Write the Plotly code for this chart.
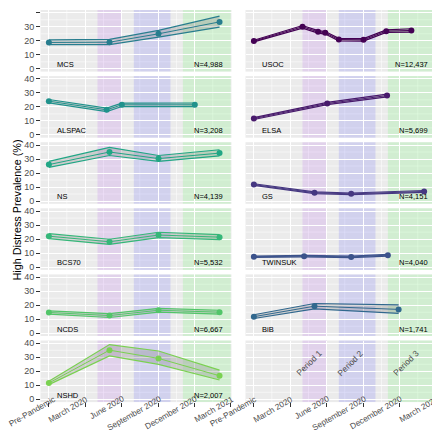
import math
import plotly.graph_objects as go

# ---------------- data ----------------
tick_dates = ["2019-12-01", "2020-03-01", "2020-06-01", "2020-09-01", "2020-12-01", "2021-03-01"]
tick_labels = ["Pre-Pandemic", "March 2020", "June 2020", "September 2020", "December 2020", "March 2021"]
minor_dates = ["2020-01-15", "2020-04-16", "2020-07-16", "2020-10-16", "2021-01-15"]

period_names = ["Period 1", "Period 2", "Period 3"]
period_start = ["2020-04-01", "2020-07-01", "2020-11-01"]
period_end = ["2020-06-01", "2020-10-01", "2021-03-01"]
period_label_x = ["2020-05-03", "2020-08-15", "2021-01-01"]
period_label_y = [21.5, 21.5, 21.5]

left_studies = ["MCS", "ALSPAC", "NS", "BCS70", "NCDS", "NSHD"]
right_studies = ["USOC", "ELSA", "GS", "TWINSUK", "BiB"]

mcs_dates = ["2019-12-01", "2020-05-01", "2020-09-01", "2021-02-01"]
mcs_est = [18.8, 19.0, 25.0, 33.5]
mcs_lo = [17.3, 17.3, 22.6, 29.8]
mcs_hi = [20.6, 21.0, 27.4, 37.6]

alspac_dates = ["2019-12-01", "2020-04-24", "2020-06-01", "2020-12-01"]
alspac_est = [24.1, 17.9, 21.5, 21.5]
alspac_lo = [22.9, 16.7, 20.3, 20.2]
alspac_hi = [25.3, 19.1, 22.7, 22.8]

ns_dates = ["2019-12-01", "2020-05-01", "2020-09-01", "2021-02-01"]
ns_est = [26.0, 35.0, 30.3, 34.2]
ns_lo = [24.0, 32.5, 28.3, 32.2]
ns_hi = [28.3, 38.3, 32.5, 36.6]

bcs70_dates = ["2019-12-01", "2020-05-01", "2020-09-01", "2021-02-01"]
bcs70_est = [22.1, 18.1, 22.9, 21.4]
bcs70_lo = [20.3, 16.2, 21.0, 19.6]
bcs70_hi = [23.9, 19.9, 24.9, 23.2]

ncds_dates = ["2019-12-01", "2020-05-01", "2020-09-01", "2021-02-01"]
ncds_est = [14.8, 12.6, 16.4, 15.0]
ncds_lo = [13.6, 11.2, 15.0, 13.6]
ncds_hi = [16.0, 14.0, 17.8, 16.4]

nshd_dates = ["2019-12-01", "2020-05-01", "2020-09-01", "2021-02-01"]
nshd_est = [11.6, 35.1, 29.2, 16.8]
nshd_lo = [10.5, 31.0, 25.0, 13.8]
nshd_hi = [12.9, 39.1, 34.5, 20.8]

usoc_dates = ["2019-12-01", "2020-04-01", "2020-05-10", "2020-05-28", "2020-07-01",
              "2020-09-01", "2020-10-28", "2020-12-30"]
usoc_est = [19.8, 30.0, 26.4, 25.7, 20.9, 20.7, 26.9, 27.4]
usoc_lo = [19.2, 29.1, 25.5, 24.8, 20.0, 19.8, 26.0, 26.2]
usoc_hi = [20.4, 30.9, 27.3, 26.6, 21.8, 21.6, 27.8, 28.6]

elsa_dates = ["2019-12-01", "2020-06-02", "2020-10-30"]
elsa_est = [11.7, 22.4, 28.1]
elsa_lo = [11.0, 21.6, 27.1]
elsa_hi = [12.4, 23.2, 29.1]

gs_dates = ["2019-12-01", "2020-05-01", "2020-08-01", "2021-01-31"]
gs_est = [11.7, 5.9, 5.1, 6.8]
gs_lo = [11.1, 5.3, 4.5, 6.1]
gs_hi = [12.3, 6.5, 5.7, 7.5]

twinsuk_dates = ["2019-12-01", "2020-04-05", "2020-08-01", "2020-11-01"]
twinsuk_est = [7.4, 7.8, 7.3, 8.5]
twinsuk_lo = [6.9, 7.2, 6.8, 7.9]
twinsuk_hi = [7.9, 8.4, 7.8, 9.1]

bib_dates = ["2019-12-01", "2020-05-01", "2020-11-28"]
bib_est = [11.8, 19.3, 17.0]
bib_lo = [10.5, 17.4, 14.2]
bib_hi = [13.2, 21.2, 20.3]

sample_sizes = {"MCS": "N=4,988", "ALSPAC": "N=3,208", "NS": "N=4,139", "BCS70": "N=5,532",
                "NCDS": "N=6,667", "NSHD": "N=2,007", "USOC": "N=12,437", "ELSA": "N=5,699",
                "GS": "N=4,151", "TWINSUK": "N=4,040", "BiB": "N=1,741"}

series = {
    "MCS": (mcs_dates, mcs_est, mcs_lo, mcs_hi),
    "ALSPAC": (alspac_dates, alspac_est, alspac_lo, alspac_hi),
    "NS": (ns_dates, ns_est, ns_lo, ns_hi),
    "BCS70": (bcs70_dates, bcs70_est, bcs70_lo, bcs70_hi),
    "NCDS": (ncds_dates, ncds_est, ncds_lo, ncds_hi),
    "NSHD": (nshd_dates, nshd_est, nshd_lo, nshd_hi),
    "USOC": (usoc_dates, usoc_est, usoc_lo, usoc_hi),
    "ELSA": (elsa_dates, elsa_est, elsa_lo, elsa_hi),
    "GS": (gs_dates, gs_est, gs_lo, gs_hi),
    "TWINSUK": (twinsuk_dates, twinsuk_est, twinsuk_lo, twinsuk_hi),
    "BiB": (bib_dates, bib_est, bib_lo, bib_hi),
}

colors = {"USOC": "#440154", "ELSA": "#481A6C", "GS": "#453781", "TWINSUK": "#3B528B",
          "BiB": "#31688E", "MCS": "#287D8E", "ALSPAC": "#20928C", "NS": "#21A685",
          "BCS70": "#35B779", "NCDS": "#52C569", "NSHD": "#7AD151"}

band_colors = ["rgba(160,32,240,0.12)", "rgba(0,0,255,0.11)", "rgba(0,255,0,0.11)"]

# ---------------- layout ----------------
W, H = 440, 431
FONT = "Liberation Sans, Arial, sans-serif"
LEFT_DOM = (32.5, 223.5)
RIGHT_DOM = (237.5, 428.5)
XR = ["2019-11-10", "2021-03-03"]
PANEL_BOTTOM = 2 + 5 * 66.1 + 61.6
XTICK_FONT = 8.2
ROT_D = 9.0  # compensation for rotated annotation offset

# Arial / Liberation Sans advance widths (em/1000) for rotated-label placement
_adv = {" ": 278, "-": 333, "P": 667, "M": 833, "J": 500, "S": 667, "D": 722,
        "a": 556, "b": 556, "c": 500, "d": 556, "e": 556, "h": 556, "i": 222,
        "m": 833, "n": 556, "p": 556, "r": 333, "t": 278, "u": 556}


def text_len(s, size):
    return sum(_adv.get(ch, 556) for ch in s) / 1000.0 * size


def rot_fix(angle_deg):
    a = math.radians(angle_deg)
    return -ROT_D * math.sin(a), ROT_D * math.cos(a)


panels = left_studies + right_studies + [None]

fig = go.Figure()
layout = {}
shapes = []
annotations = []

fx30, fy30 = rot_fix(30)
fx45, fy45 = rot_fix(45)

for k, study in enumerate(panels):
    r = k % 6
    c = k // 6
    sfx = "" if k == 0 else str(k + 1)
    xd = LEFT_DOM if c == 0 else RIGHT_DOM
    top = 2 + r * 66.1
    bot = top + 61.6
    layout["xaxis" + sfx] = dict(
        domain=[xd[0] / W, xd[1] / W], anchor="y" + sfx, type="date", range=XR,
        tickmode="array", tickvals=tick_dates, ticktext=tick_labels,
        showticklabels=False, ticks="outside" if r == 5 else "",
        ticklen=3.5, tickcolor="#333333", tickwidth=1,
        showgrid=True, gridcolor="white", gridwidth=1, zeroline=False, showline=False,
        automargin=False, fixedrange=True,
    )
    layout["yaxis" + sfx] = dict(
        domain=[1 - bot / H, 1 - top / H], anchor="x" + sfx, range=[-2, 42],
        tickmode="array", tickvals=[0, 10, 20, 30, 40],
        showticklabels=(c == 0), ticks="outside" if c == 0 else "",
        ticklen=3.5, tickcolor="#333333", tickwidth=1,
        tickfont=dict(size=9, color="#4d4d4d", family=FONT),
        showgrid=True, gridcolor="white", gridwidth=1, zeroline=False, showline=False,
        automargin=False, fixedrange=True,
    )
    xr = "x" + sfx
    yr = "y" + sfx
    # minor grid lines (ggplot style)
    for md in minor_dates:
        shapes.append(dict(type="line", xref=xr, yref=yr + " domain", x0=md, x1=md, y0=0, y1=1,
                           line=dict(color="white", width=0.5), layer="below"))
    for mv in [5, 15, 25, 35]:
        shapes.append(dict(type="line", xref=xr + " domain", yref=yr, x0=0, x1=1, y0=mv, y1=mv,
                           line=dict(color="white", width=0.5), layer="below"))
    for b in range(3):
        shapes.append(dict(type="rect", xref=xr, yref=yr + " domain",
                           x0=period_start[b], x1=period_end[b], y0=0, y1=1,
                           fillcolor=band_colors[b], line=dict(width=0), layer="below"))
    # x tick labels (rotated 30 deg, text end at the tick) under the bottom panel of each column
    if r == 5:
        for ti, (tdate, tlab) in enumerate(zip(tick_dates, tick_labels)):
            L = text_len(tlab, XTICK_FONT)
            cy = PANEL_BOTTOM + 4.0 + 0.25 * L
            edge_nudge = 4.0 if (c == 0 and ti == 0) else 0.0
            annotations.append(dict(xref=xr, yref="paper", x=tdate, y=1 - cy / H,
                                    xshift=6.5 - 0.433 * L + fx30 + edge_nudge, yshift=fy30,
                                    text=tlab, textangle=-30,
                                    showarrow=False, xanchor="center", yanchor="middle",
                                    borderpad=0, borderwidth=0,
                                    font=dict(size=XTICK_FONT, color="#4d4d4d", family=FONT)))
    if study is None:
        for b in range(3):
            annotations.append(dict(xref=xr, yref=yr, x=period_label_x[b], y=period_label_y[b],
                                    xshift=fx45, yshift=fy45,
                                    text=period_names[b], showarrow=False, textangle=-45,
                                    xanchor="center", yanchor="middle",
                                    borderpad=0, borderwidth=0,
                                    font=dict(size=8.5, color="#4d4d4d", family=FONT)))
        continue
    d, est, lo, hi = series[study]
    col = colors[study]
    fig.add_trace(go.Scatter(x=d, y=lo, mode="lines", line=dict(color=col, width=1.2),
                             xaxis=xr, yaxis=yr, showlegend=False, hoverinfo="skip"))
    fig.add_trace(go.Scatter(x=d, y=hi, mode="lines", line=dict(color=col, width=1.2),
                             fill="tonexty", fillcolor="rgba(128,128,128,0.3)",
                             xaxis=xr, yaxis=yr, showlegend=False, hoverinfo="skip"))
    fig.add_trace(go.Scatter(x=d, y=est, mode="lines+markers", line=dict(color=col, width=1),
                             marker=dict(color=col, size=6), xaxis=xr, yaxis=yr,
                             showlegend=False))
    annotations.append(dict(xref=xr, yref=yr, x="2019-12-17", y=3, text=study,
                            xanchor="left", yanchor="middle", showarrow=False,
                            font=dict(size=7.5, color="black", family=FONT)))
    annotations.append(dict(xref=xr, yref=yr, x="2021-02-15", y=3, text=sample_sizes[study],
                            xanchor="right", yanchor="middle", showarrow=False,
                            font=dict(size=7.5, color="black", family=FONT)))

annotations.append(dict(xref="paper", yref="paper", x=8.5 / W, y=1 - 202 / H,
                        text="High Distress Prevalence (%)", textangle=-90, showarrow=False,
                        xanchor="center", yanchor="middle", borderpad=0, borderwidth=0,
                        font=dict(size=10.8, color="black", family=FONT)))

fig.update_layout(
    width=W, height=H, margin=dict(l=0, r=0, t=0, b=0, autoexpand=False),
    paper_bgcolor="white", plot_bgcolor="#EBEBEB", showlegend=False,
    shapes=shapes, annotations=annotations, font=dict(family=FONT),
    **layout,
)

fig.write_html("out.html")
